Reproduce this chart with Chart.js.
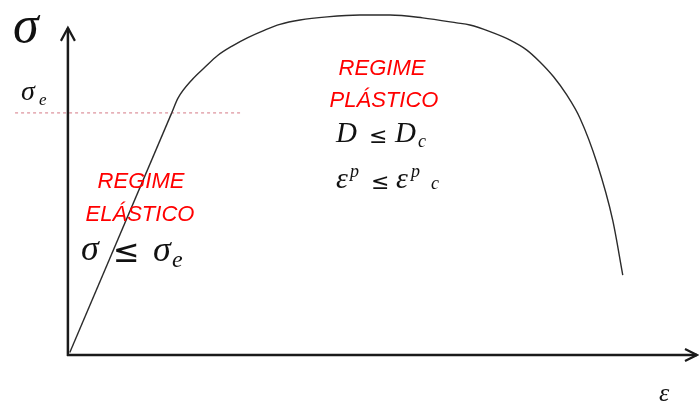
<!DOCTYPE html>
<html>
<head>
<meta charset="utf-8">
<script src="https://cdn.jsdelivr.net/npm/chart.js@4.4.1/dist/chart.umd.min.js"></script>
<style>
  html, body { margin: 0; padding: 0; background: #fff; }
  #wrap { width: 699px; height: 403px; }
</style>
</head>
<body>
<div id="wrap"><canvas id="myChart"></canvas></div>
<script>
// strain (0-100) / stress (0-110)
var elasticStrain = [0.3, 16.5];
var elasticStress = [0.8, 77.2];
var plasticStrain = [16.5, 17.5, 19.7, 21.8, 23.8, 26.1, 28.6, 31.3, 33.7, 36.9, 41.2, 46.4, 51.2, 56.4, 61.8, 63.9, 67.1, 70.3, 72.9, 75.0, 77.2, 79.3, 81.4, 84.1, 86.6, 88.2];
var plasticStress = [77.2, 81.9, 87.7, 91.8, 95.5, 98.5, 101.2, 103.6, 105.4, 106.8, 107.8, 108.4, 108.4, 107.5, 105.9, 105.2, 103.1, 100.4, 97.3, 93.5, 88.7, 82.9, 75.5, 61.2, 43.0, 25.5];
var yieldStrain = [-8.4, 27.7];
var yieldStress = [77.2, 77.2];

function pts(xs, ys) {
  return xs.map(function (x, i) { return { x: x, y: ys[i] }; });
}

var SERIF = '"Liberation Serif", "DejaVu Serif", serif';

var annotations = {
  id: 'annotations',
  afterDraw: function (chart) {
    var c = chart.ctx;
    var xs = chart.scales.x, ys = chart.scales.y;
    var ox = xs.getPixelForValue(0), oy = ys.getPixelForValue(0);
    var yTop = ys.getPixelForValue(104.3);
    var xEnd = xs.getPixelForValue(100);

    c.save();
    // axes with arrows
    c.strokeStyle = '#1a1a1a';
    c.lineWidth = 2.5;
    c.lineCap = 'butt';
    c.beginPath();
    c.moveTo(ox, oy + 1);
    c.lineTo(ox, yTop);
    c.moveTo(ox - 1, oy);
    c.lineTo(xEnd, oy);
    c.stroke();
    c.lineWidth = 2.2;
    c.beginPath();
    c.moveTo(ox - 7, yTop + 13);
    c.lineTo(ox, yTop);
    c.lineTo(ox + 7, yTop + 13);
    c.moveTo(xEnd - 12, oy - 6);
    c.lineTo(xEnd, oy);
    c.lineTo(xEnd - 12, oy + 6);
    c.stroke();

    // axis symbols
    c.fillStyle = '#111';
    c.textAlign = 'left';
    c.textBaseline = 'alphabetic';
    c.font = 'italic 52px ' + SERIF;
    c.fillText('σ', 13, 42);
    c.font = 'italic 28px ' + SERIF;
    c.fillText('σ', 21, 100);
    c.font = 'italic 17px ' + SERIF;
    c.fillText('e', 39, 105);
    c.font = 'italic 26px ' + SERIF;
    c.fillText('ε', 659, 401);

    // red region labels
    c.fillStyle = '#ff0000';
    c.textAlign = 'center';
    c.font = 'italic 22px "Liberation Sans", Arial, sans-serif';
    c.fillText('REGIME', 141, 188);
    c.fillText('ELÁSTICO', 140, 221);
    c.fillText('REGIME', 382, 75);
    c.fillText('PLÁSTICO', 384, 107);

    // inequalities
    c.fillStyle = '#111';
    c.textAlign = 'left';
    c.font = 'italic 36px ' + SERIF;
    c.fillText('σ', 81, 260);
    c.fillText('σ', 153, 261);
    c.font = 'italic 24px ' + SERIF;
    c.fillText('e', 172, 267);
    c.font = '32px "DejaVu Sans", sans-serif';
    c.fillText('≤', 113, 262);

    c.font = 'italic 29px ' + SERIF;
    c.fillText('D', 336, 142);
    c.fillText('D', 395, 142);
    c.font = 'italic 18px ' + SERIF;
    c.fillText('c', 418, 147);
    c.font = '22px "DejaVu Sans", sans-serif';
    c.fillText('≤', 369, 143);

    c.font = 'italic 30px ' + SERIF;
    c.fillText('ε', 336, 188);
    c.fillText('ε', 396, 188);
    c.font = 'italic 18px ' + SERIF;
    c.fillText('p', 350, 177);
    c.fillText('p', 411, 177);
    c.font = 'italic 18px ' + SERIF;
    c.fillText('c', 431, 189);
    c.font = '22px "DejaVu Sans", sans-serif';
    c.fillText('≤', 371, 189);
    c.restore();
  }
};

var ctx = document.getElementById('myChart').getContext('2d');
var myChart = new Chart(ctx, {
  type: 'line',
  plugins: [annotations],
  data: {
    datasets: [{
      label: 'elastic',
      data: pts(elasticStrain, elasticStress),
      borderColor: '#2b2b2b',
      borderWidth: 1.4,
      pointRadius: 0,
      tension: 0
    }, {
      label: 'plastic',
      data: pts(plasticStrain, plasticStress),
      borderColor: '#2b2b2b',
      borderWidth: 1.4,
      pointRadius: 0,
      cubicInterpolationMode: 'monotone'
    }, {
      label: 'yield',
      data: pts(yieldStrain, yieldStress),
      borderColor: '#e3a6ae',
      borderWidth: 1.5,
      borderDash: [3, 3],
      pointRadius: 0,
      tension: 0
    }]
  },
  options: {
    responsive: true,
    maintainAspectRatio: false,
    animation: false,
    layout: { padding: { left: 5, right: 2, top: 10, bottom: 48 } },
    plugins: {
      legend: { display: false },
      tooltip: { enabled: false }
    },
    scales: {
      x: { type: 'linear', min: -10, max: 100, display: false },
      y: { type: 'linear', min: 0, max: 110, display: false }
    }
  }
});
</script>
</body>
</html>
